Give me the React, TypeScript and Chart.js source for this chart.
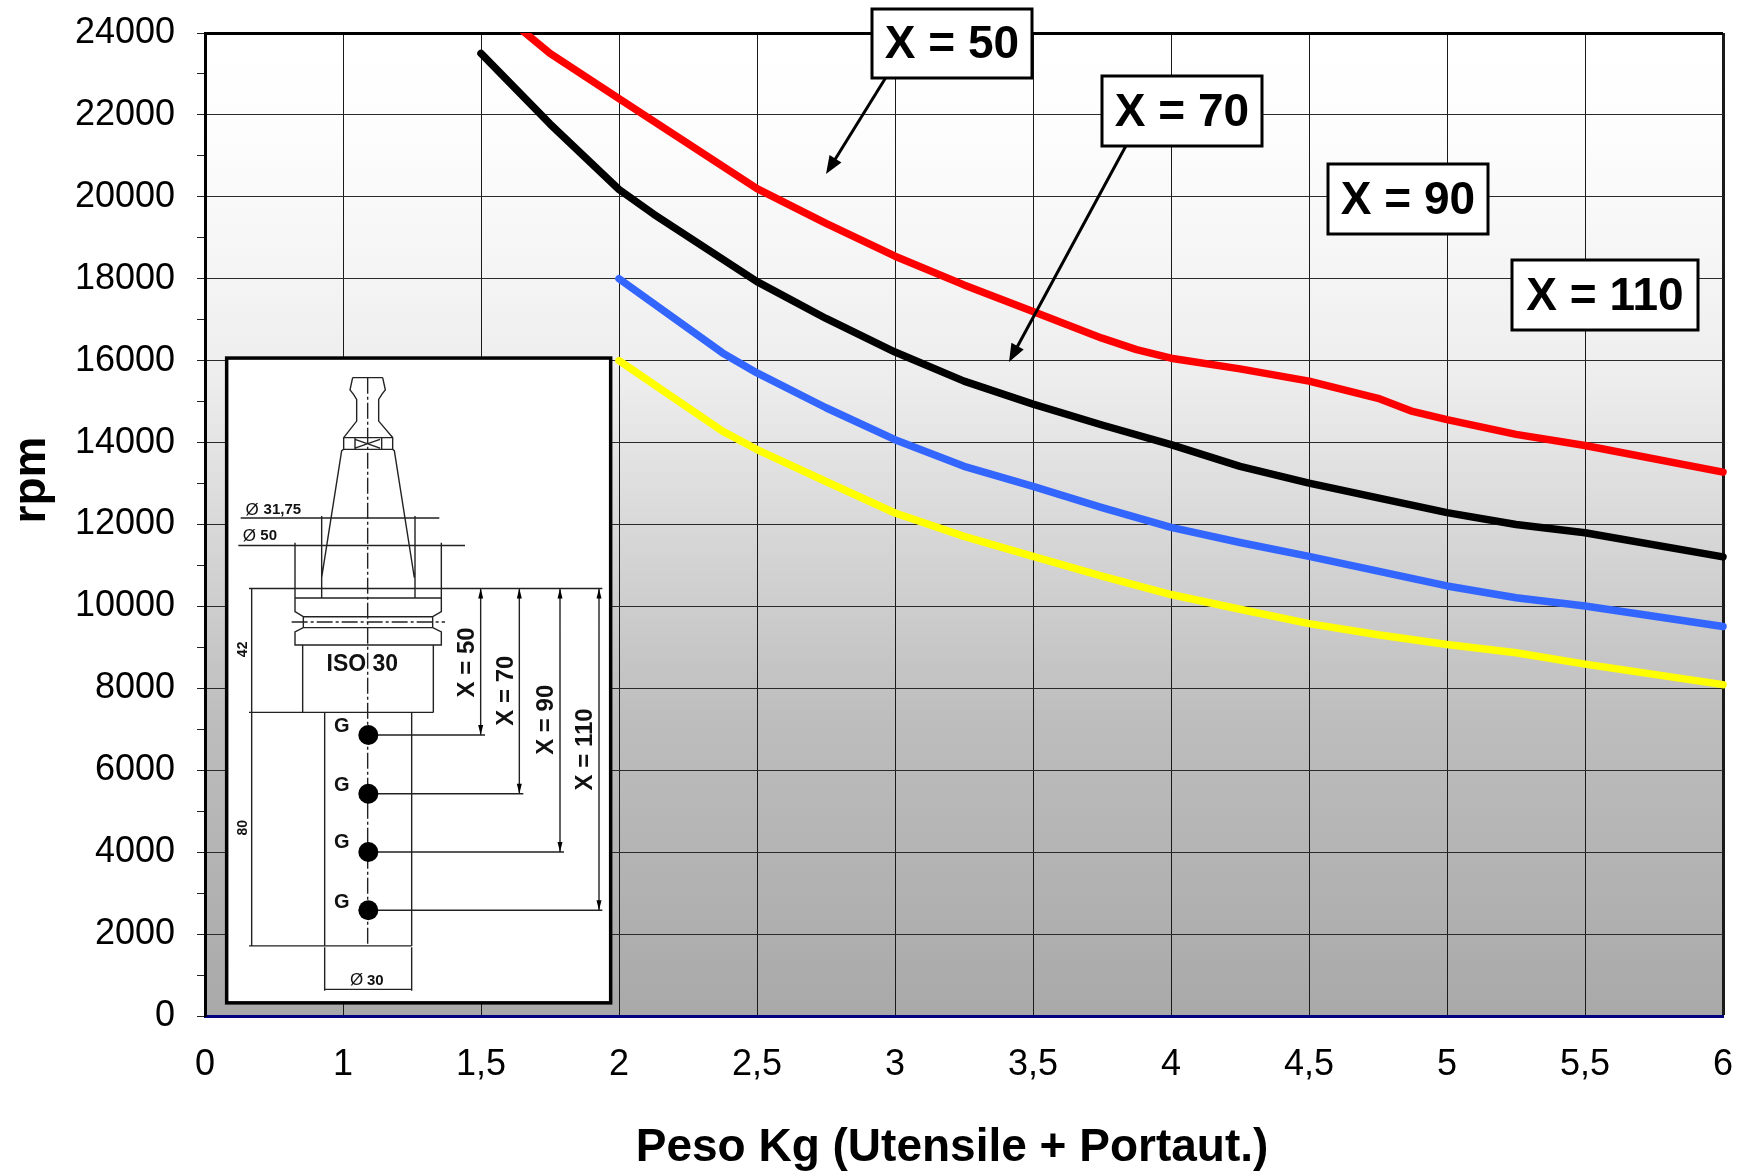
import React, { useEffect, useRef } from "react";
import { Chart, registerables } from "chart.js";

Chart.register(...registerables);

const TICK_LABELS = ["0", "1", "1,5", "2", "2,5", "3", "3,5", "4", "4,5", "5", "5,5", "6"];

const X50_KG = [1.5, 1.75, 2, 2.25, 2.5, 2.75, 3, 3.25, 3.5, 3.75, 3.875, 4, 4.25, 4.5, 4.75, 4.875, 5, 5.25, 5.5, 6];
const X50_RPM = [24900, 23500, 22400, 21300, 20200, 19350, 18550, 17850, 17200, 16550, 16270, 16060, 15800, 15500, 15080, 14760, 14560, 14200, 13930, 13280];

const X70_KG = [1.5, 1.75, 2, 2.125, 2.5, 2.75, 3, 3.25, 3.5, 3.75, 4, 4.25, 4.5, 4.75, 5, 5.25, 5.5, 6];
const X70_RPM = [23500, 21780, 20180, 19580, 17930, 17030, 16210, 15500, 14940, 14430, 13950, 13420, 13010, 12650, 12290, 12000, 11800, 11210];

const X90_KG = [2, 2.375, 2.5, 2.75, 3, 3.25, 3.5, 3.75, 4, 4.25, 4.5, 4.75, 5, 5.25, 5.5, 6];
const X90_RPM = [18000, 16190, 15700, 14850, 14070, 13420, 12930, 12410, 11930, 11560, 11220, 10860, 10500, 10210, 10010, 9510];

const X110_KG = [2, 2.375, 2.5, 2.75, 3, 3.25, 3.5, 3.75, 4, 4.25, 4.5, 4.75, 5, 5.25, 5.5, 6];
const X110_RPM = [16000, 14280, 13830, 13050, 12280, 11710, 11220, 10740, 10290, 9930, 9580, 9310, 9070, 8870, 8590, 8090];

const SERIES = [
  { label: "X = 50", kg: X50_KG, rpm: X50_RPM, color: "#ff0000" },
  { label: "X = 70", kg: X70_KG, rpm: X70_RPM, color: "#000000" },
  { label: "X = 90", kg: X90_KG, rpm: X90_RPM, color: "#3366ff" },
  { label: "X = 110", kg: X110_KG, rpm: X110_RPM, color: "#ffff00" },
];

const FONT = '"Liberation Sans", Arial, sans-serif';

// The reference's weight axis is evenly spaced per label, with 0 -> 1 taking the same room as 1 -> 1,5.
const kgToSlot = (kg: number) => (kg <= 1 ? kg : 2 * kg - 1);

const LABEL_BOXES = [
  { text: "X = 50", l: 872, t: 9, r: 1032, b: 78 },
  { text: "X = 70", l: 1102, t: 76, r: 1262, b: 146 },
  { text: "X = 90", l: 1328, t: 164, r: 1488, b: 234 },
  { text: "X = 110", l: 1512, t: 260, r: 1698, b: 330 },
];

const ARROWS = [
  [888, 74, 826, 174],
  [1128, 142, 1009, 362],
];

function arrow(ctx: CanvasRenderingContext2D, a: number[]) {
  const [x0, y0, x1, y1] = a;
  const ang = Math.atan2(y1 - y0, x1 - x0);
  ctx.strokeStyle = "#000";
  ctx.fillStyle = "#000";
  ctx.lineWidth = 3;
  ctx.beginPath();
  ctx.moveTo(x0, y0);
  ctx.lineTo(x1 - 8 * Math.cos(ang), y1 - 8 * Math.sin(ang));
  ctx.stroke();
  ctx.beginPath();
  ctx.moveTo(x1, y1);
  ctx.lineTo(x1 - 18 * Math.cos(ang) + 7 * Math.sin(ang), y1 - 18 * Math.sin(ang) - 7 * Math.cos(ang));
  ctx.lineTo(x1 - 18 * Math.cos(ang) - 7 * Math.sin(ang), y1 - 18 * Math.sin(ang) + 7 * Math.cos(ang));
  ctx.closePath();
  ctx.fill();
}

// Technical drawing of the tool holder, in its own coordinates.
const IX = (x: number) => 200 + x / 3;
const IY = (y: number) => 338.5 + y / 2.3;

const INSET_PATHS: number[][] = [
  // pull stud and cone, left and right profile
  [458, 90, 450, 118, 460, 128, 470, 140, 470, 190, 431, 228, 431, 255, 425, 258, 365, 550],
  [548, 90, 556, 118, 546, 128, 536, 140, 536, 190, 578, 228, 578, 255, 583, 258, 643, 550],
  [458, 90, 548, 90],
  [431, 228, 578, 228],
  [431, 255, 578, 255],
  [465, 232, 540, 252],
  [465, 252, 540, 232],
  [465, 228, 465, 255],
  [545, 228, 545, 255],
  // diameter dimensions
  [122, 413, 718, 413],
  [365, 408, 365, 597],
  [645, 408, 645, 597],
  [115, 476, 795, 476],
  [285, 470, 285, 597],
  [724, 470, 724, 597],
  // datum
  [147, 575, 1207, 575],
  // flange
  [285, 597, 724, 597, 724, 628, 698, 640, 698, 665, 724, 675, 724, 705, 285, 705, 285, 675, 310, 665, 310, 640, 285, 628, 285, 597],
  [310, 640, 698, 640],
  [310, 665, 698, 665],
  // body and shank
  [308, 705, 308, 860],
  [700, 705, 700, 860],
  [147, 860, 700, 860],
  [374, 860, 374, 1397],
  [635, 860, 635, 1397],
  [147, 1397, 635, 1397],
  // left dimension
  [155, 575, 155, 1397],
  // leaders
  [505, 912, 855, 912],
  [505, 1047, 970, 1047],
  [505, 1181, 1092, 1181],
  [505, 1315, 1207, 1315],
  // X dimensions
  [842, 575, 842, 912],
  [958, 575, 958, 1047],
  [1080, 575, 1080, 1181],
  [1197, 575, 1197, 1315],
  // bottom diameter
  [374, 1400, 374, 1500],
  [635, 1400, 635, 1500],
  [374, 1497, 635, 1497],
];

const INSET_DOTS = [912, 1047, 1181, 1315];
const INSET_DIM_ARROWS = [
  [842, 575, 1],
  [842, 912, -1],
  [958, 575, 1],
  [958, 1047, -1],
  [1080, 575, 1],
  [1080, 1181, -1],
  [1197, 575, 1],
  [1197, 1315, -1],
];

const INSET_TEXT = [
  { t: "Ø", x: 156, y: 395, font: `17px ${FONT}` },
  { t: "31,75", x: 247, y: 395, font: `bold 15px ${FONT}` },
  { t: "Ø", x: 148, y: 455, font: `17px ${FONT}` },
  { t: "50", x: 206, y: 455, font: `bold 15px ${FONT}` },
  { t: "ISO 30", x: 487, y: 750, font: `bold 23px ${FONT}` },
  { t: "G", x: 425, y: 893, font: `bold 20px ${FONT}` },
  { t: "G", x: 425, y: 1028, font: `bold 20px ${FONT}` },
  { t: "G", x: 425, y: 1160, font: `bold 20px ${FONT}` },
  { t: "G", x: 425, y: 1297, font: `bold 20px ${FONT}` },
  { t: "Ø", x: 470, y: 1477, font: `17px ${FONT}` },
  { t: "30", x: 526, y: 1477, font: `bold 15px ${FONT}` },
];

const INSET_VERTICAL_TEXT = [
  { t: "42", x: 128, y: 715, font: `bold 14px ${FONT}` },
  { t: "80", x: 128, y: 1125, font: `bold 14px ${FONT}` },
  { t: "X = 50", x: 803, y: 745, font: `bold 24px ${FONT}` },
  { t: "X = 70", x: 918, y: 810, font: `bold 24px ${FONT}` },
  { t: "X = 90", x: 1040, y: 877, font: `bold 24px ${FONT}` },
  { t: "X = 110", x: 1155, y: 945, font: `bold 24px ${FONT}` },
];

function drawInset(ctx: CanvasRenderingContext2D) {
  ctx.save();
  // frame
  ctx.fillStyle = "#fff";
  ctx.fillRect(IX(80), IY(45), IX(1232) - IX(80), IY(1528) - IY(45));
  ctx.strokeStyle = "#000";
  ctx.lineWidth = 3.5;
  ctx.strokeRect(IX(80), IY(45), IX(1232) - IX(80), IY(1528) - IY(45));

  // centre lines
  ctx.strokeStyle = "#222";
  ctx.lineWidth = 1.4;
  ctx.setLineDash([16, 3, 3, 3]);
  ctx.beginPath();
  ctx.moveTo(IX(503), IY(90));
  ctx.lineTo(IX(503), IY(1397));
  ctx.moveTo(IX(275), IY(652));
  ctx.lineTo(IX(735), IY(652));
  ctx.stroke();
  ctx.setLineDash([]);

  ctx.beginPath();
  for (const p of INSET_PATHS) {
    ctx.moveTo(IX(p[0]), IY(p[1]));
    for (let i = 2; i < p.length; i += 2) ctx.lineTo(IX(p[i]), IY(p[i + 1]));
  }
  ctx.stroke();

  ctx.fillStyle = "#000";
  for (const y of INSET_DOTS) {
    ctx.beginPath();
    ctx.arc(IX(505), IY(y), 10, 0, Math.PI * 2);
    ctx.fill();
  }
  for (const [x, y, d] of INSET_DIM_ARROWS) {
    ctx.beginPath();
    ctx.moveTo(IX(x), IY(y));
    ctx.lineTo(IX(x) - 2.5, IY(y) + d * 10);
    ctx.lineTo(IX(x) + 2.5, IY(y) + d * 10);
    ctx.closePath();
    ctx.fill();
  }

  ctx.fillStyle = "#111";
  ctx.textAlign = "center";
  ctx.textBaseline = "middle";
  for (const t of INSET_TEXT) {
    ctx.font = t.font;
    ctx.fillText(t.t, IX(t.x), IY(t.y));
  }
  for (const t of INSET_VERTICAL_TEXT) {
    ctx.save();
    ctx.translate(IX(t.x), IY(t.y));
    ctx.rotate(-Math.PI / 2);
    ctx.font = t.font;
    ctx.fillText(t.t, 0, 0);
    ctx.restore();
  }
  ctx.restore();
}

const plotBackground = {
  id: "plotBackground",
  beforeDraw(chart: any) {
    const { ctx, chartArea: a } = chart;
    const g = ctx.createLinearGradient(0, a.top, 0, a.bottom);
    const stop = (y: number, c: string) => g.addColorStop((y - 33) / 983, c);
    stop(33, "#ffffff");
    stop(130, "#fdfdfd");
    stop(280, "#f4f4f4");
    stop(380, "#ededed");
    stop(570, "#d2d2d2");
    stop(720, "#bdbdbd");
    stop(1016, "#a9a9a9");
    ctx.save();
    ctx.fillStyle = g;
    ctx.fillRect(a.left, a.top, a.right - a.left, a.bottom - a.top);
    ctx.restore();
  },
};

const overlays = {
  id: "overlays",
  afterDraw(chart: any) {
    const ctx: CanvasRenderingContext2D = chart.ctx;
    ctx.save();
    drawInset(ctx);
    ARROWS.forEach((a) => arrow(ctx, a));
    for (const b of LABEL_BOXES) {
      ctx.fillStyle = "#fff";
      ctx.fillRect(b.l, b.t, b.r - b.l, b.b - b.t);
      ctx.strokeStyle = "#000";
      ctx.lineWidth = 3;
      ctx.strokeRect(b.l, b.t, b.r - b.l, b.b - b.t);
      ctx.fillStyle = "#000";
      ctx.font = `bold 46px ${FONT}`;
      ctx.textAlign = "center";
      ctx.textBaseline = "middle";
      ctx.fillText(b.text, (b.l + b.r) / 2, (b.t + b.b) / 2 + 2);
    }
    ctx.fillStyle = "#000";
    ctx.font = `bold 46px ${FONT}`;
    ctx.textAlign = "center";
    ctx.textBaseline = "alphabetic";
    ctx.fillText("Peso Kg (Utensile + Portaut.)", 952, 1161);
    ctx.save();
    ctx.translate(45, 480);
    ctx.rotate(-Math.PI / 2);
    ctx.fillText("rpm", 0, 0);
    ctx.restore();
    ctx.restore();
  },
};

export default function App() {
  const ref = useRef<HTMLCanvasElement>(null);
  useEffect(() => {
    document.body.style.margin = "0";
    const chart = new Chart(ref.current!, {
      type: "line",
      data: {
        datasets: SERIES.map((s) => ({
          label: s.label,
          data: s.kg.map((kg, i) => ({ x: kgToSlot(kg), y: s.rpm[i] })),
          borderColor: s.color,
          backgroundColor: s.color,
          borderWidth: 7.5,
          pointRadius: 0,
          tension: 0,
          fill: false,
          borderCapStyle: "round",
          borderJoinStyle: "round",
          clip: { left: false, top: 0, right: false, bottom: false },
        })),
      },
      options: {
        responsive: false,
        animation: false,
        layout: { padding: { top: 33, right: 25, left: 0, bottom: 0 } },
        plugins: { legend: { display: false }, tooltip: { enabled: false }, title: { display: false } },
        scales: {
          x: {
            type: "linear",
            min: 0,
            max: 11,
            afterFit: (s: any) => {
              s.height = 157;
              s.paddingLeft = 0;
              s.paddingRight = 0;
            },
            border: { color: "#000080", width: 3 },
            grid: {
              drawTicks: false,
              color: "#1a1a1a",
              lineWidth: (c: any) => (c.tick && c.tick.value === 11 ? 3 : 1),
            },
            ticks: {
              stepSize: 1,
              autoSkip: false,
              maxRotation: 0,
              padding: 27,
              color: "#000",
              font: { family: FONT, size: 36 },
              callback: (v: any) => TICK_LABELS[v],
            },
          },
          y: {
            min: 0,
            max: 24000,
            afterFit: (s: any) => {
              s.width = 205;
              s.paddingTop = 0;
              s.paddingBottom = 0;
            },
            border: { color: "#000", width: 3 },
            grid: {
              tickLength: 8,
              tickColor: "#222",
              tickWidth: 1,
              color: (c: any) => (c.tick && c.tick.value % 2000 === 0 ? (c.tick.value === 24000 ? "#000" : "#2a2a2a") : "rgba(0,0,0,0)"),
              lineWidth: (c: any) => (c.tick && c.tick.value === 24000 ? 3 : 1),
            },
            ticks: {
              stepSize: 1000,
              autoSkip: false,
              padding: 22,
              color: "#000",
              font: { family: FONT, size: 36 },
              callback: (v: any) => (v % 2000 === 0 ? String(v) : ""),
            },
          },
        },
      } as any,
      plugins: [plotBackground, overlays],
    } as any);
    return () => chart.destroy();
  }, []);
  return (
    <div style={{ position: "absolute", left: 0, top: 0, width: 1748, height: 1173, background: "#fff" }}>
      <canvas ref={ref} width={1748} height={1173} style={{ display: "block" }} />
    </div>
  );
}
